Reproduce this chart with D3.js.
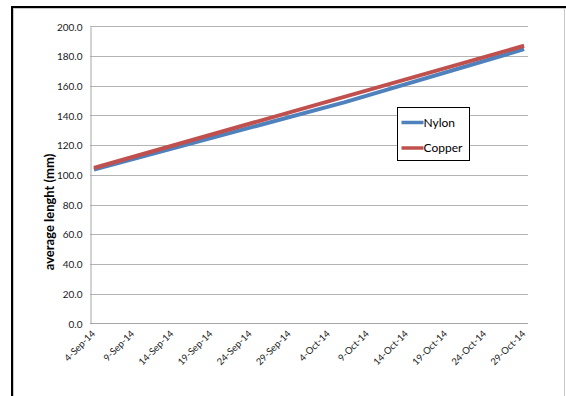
<!DOCTYPE html>
<html>
<head>
<meta charset="utf-8">
<script src="https://cdn.jsdelivr.net/npm/d3@7"></script>
<style>
  html, body { margin: 0; padding: 0; background: #fff; }
  svg { display: block; font-family: Lato, "Open Sans", sans-serif; }
</style>
</head>
<body>
<svg id="chart" width="566" height="396"></svg>
<script>
// Measurement dates and average lengths (mm)
const nylonDates = ["2014-09-04", "2014-10-06", "2014-10-29"];
const nylonValues = [103.5, 148.8, 184.6];
const copperDates = ["2014-09-04", "2014-10-29"];
const copperValues = [104.6, 186.9];
const tickDates = ["2014-09-04", "2014-09-09", "2014-09-14", "2014-09-19", "2014-09-24", "2014-09-29",
                   "2014-10-04", "2014-10-09", "2014-10-14", "2014-10-19", "2014-10-24", "2014-10-29"];
const yTicks = [0, 20, 40, 60, 80, 100, 120, 140, 160, 180, 200];
const seriesNames = ["Nylon", "Copper"];
const seriesColors = ["#4F81BD", "#C0504D"];

const parse = d3.utcParse("%Y-%m-%d");
const fmtDate = d3.utcFormat("%-d-%b-%y");
const day = 864e5;

const svg = d3.select("#chart");
const plot = { left: 90, right: 528, top: 26.3, bottom: 323.3 };

// Outer frame
svg.append("line").attr("x1", 11).attr("x2", 566).attr("y1", 7).attr("y2", 7)
  .attr("stroke", "#000").attr("stroke-width", 2);
svg.append("line").attr("x1", 12).attr("x2", 12).attr("y1", 6).attr("y2", 396)
  .attr("stroke", "#000").attr("stroke-width", 2);
svg.append("line").attr("x1", 13.5).attr("x2", 13.5).attr("y1", 8).attr("y2", 396)
  .attr("stroke", "#c8c8c8").attr("stroke-width", 1);
svg.append("line").attr("x1", 13).attr("x2", 566).attr("y1", 8.5).attr("y2", 8.5)
  .attr("stroke", "#c8c8c8").attr("stroke-width", 1);
svg.append("line").attr("x1", 564.5).attr("x2", 564.5).attr("y1", 8).attr("y2", 396)
  .attr("stroke", "#c8c8c8").attr("stroke-width", 1);

const first = parse(tickDates[0]), last = parse(tickDates[tickDates.length - 1]);
const x = d3.scaleUtc()
  .domain([new Date(+first - day / 2), new Date(+last + day / 2)])
  .range([plot.left, plot.right]);
const y = d3.scaleLinear().domain([0, 200]).range([plot.bottom, plot.top]);

// Horizontal gridlines
svg.append("g").selectAll("line").data(yTicks.filter(v => v > 0)).join("line")
  .attr("x1", plot.left).attr("x2", plot.right)
  .attr("y1", d => Math.round(y(d)) + 0.5).attr("y2", d => Math.round(y(d)) + 0.5)
  .attr("stroke", "#b4b4b4").attr("stroke-width", 1);

// Y axis
const yAxis = svg.append("g").attr("transform", `translate(${plot.left + 0.5},0.5)`)
  .call(d3.axisLeft(y).tickValues(yTicks).tickFormat(d3.format(".1f")).tickSize(0).tickPadding(8));
yAxis.select(".domain").attr("stroke", "#a6a6a6");
yAxis.selectAll("text").attr("font-size", 10).attr("fill", "#1a1a1a").attr("font-family", "Lato, sans-serif");

// X axis line
svg.append("line").attr("x1", plot.left).attr("x2", plot.right)
  .attr("y1", Math.round(plot.bottom) + 0.5).attr("y2", Math.round(plot.bottom) + 0.5)
  .attr("stroke", "#a6a6a6");

// X tick labels, rotated (grayscale antialiasing via group opacity)
svg.append("g").attr("opacity", 0.99).selectAll("text").data(tickDates).join("text")
  .attr("transform", d => `translate(${x(parse(d)) + 2},${plot.bottom + 11}) rotate(-45)`)
  .attr("text-anchor", "end")
  .attr("font-size", 9.5)
  .attr("fill", "#1a1a1a")
  .text(d => fmtDate(parse(d)));

// Y axis title
svg.append("text")
  .attr("transform", `translate(53.5,212) rotate(-90)`)
  .attr("text-anchor", "middle")
  .attr("font-size", 13)
  .attr("font-weight", "bold")
  .text("average lenght (mm)");

// Series lines
const line = d3.line().x(d => x(d.date)).y(d => y(d.value));
const series = [
  { name: seriesNames[0], color: seriesColors[0], pts: nylonDates.map((d, i) => ({ date: parse(d), value: nylonValues[i] })) },
  { name: seriesNames[1], color: seriesColors[1], pts: copperDates.map((d, i) => ({ date: parse(d), value: copperValues[i] })) }
];
svg.append("g").selectAll("path").data(series).join("path")
  .attr("d", d => line(d.pts))
  .attr("fill", "none")
  .attr("stroke", d => d.color)
  .attr("stroke-width", 4)
  .attr("stroke-linejoin", "round");

// Legend
const lg = svg.append("g").attr("transform", "translate(397.5,107.5)");
lg.append("rect").attr("width", 72).attr("height", 53).attr("fill", "#fff").attr("stroke", "#000");
const items = lg.selectAll("g").data(series).join("g")
  .attr("transform", (d, i) => `translate(0,${15 + i * 25.5})`);
items.append("line").attr("x1", 4).attr("x2", 26).attr("stroke", d => d.color).attr("stroke-width", 3.5);
items.append("text").attr("x", 26).attr("dy", "0.35em").attr("font-size", 12).text(d => d.name);
</script>
</body>
</html>
